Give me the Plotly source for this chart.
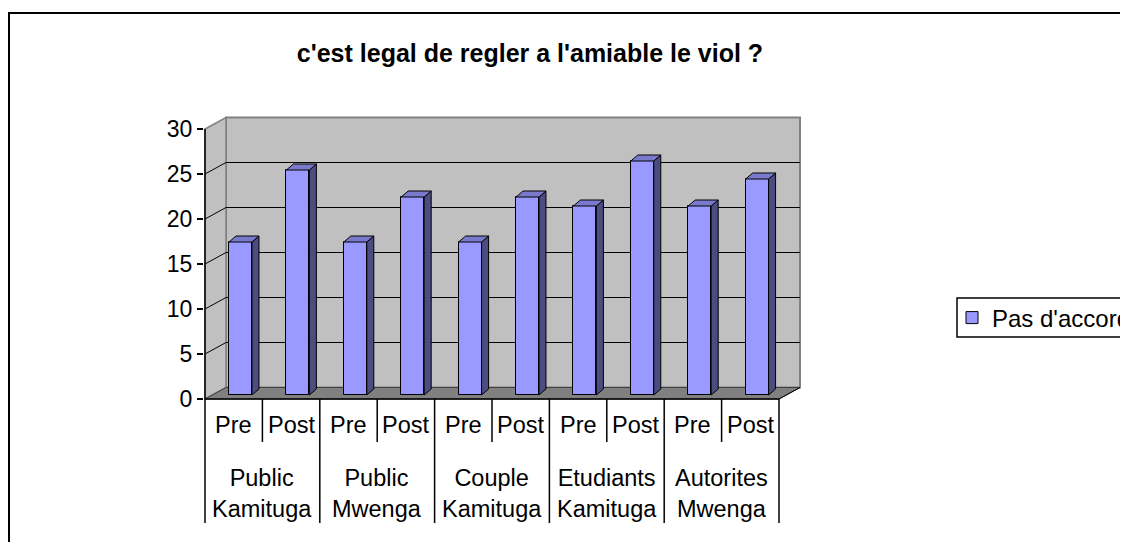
import plotly.graph_objects as go

# ---------------- data ----------------
title_text = "c'est legal de regler a l'amiable le viol ?"
series_name = "Pas d'accord"
phases = ["Pre", "Post", "Pre", "Post", "Pre", "Post", "Pre", "Post", "Pre", "Post"]
groups = ["Public<br>Kamituga", "Public<br>Mwenga", "Couple<br>Kamituga",
          "Etudiants<br>Kamituga", "Autorites<br>Mwenga"]
values = [17, 25, 17, 22, 17, 22, 21, 26, 21, 24]
y_ticks = [0, 5, 10, 15, 20, 25, 30]

# ---------------- geometry / style ----------------
W, H = 1128, 542
OFF = 8           # page body margin (screen px = figure px + OFF)
FONT = "Liberation Sans, Arial, sans-serif"
PXC = 57.4        # px per category
PXV = 9.0         # px per value unit
FRONT_LEFT = 205  # screen px of x=-0.5
ZERO = 399        # screen px of y=0
ML, MR, MT, MB = 196, 333, 107, 149
PW = W - ML - MR
PH = H - MT - MB

n = len(values)
ymax = y_ticks[-1]
DX = 21 / PXC     # depth offset of back wall (category units)
DY = 11.5 / PXV   # depth offset of back wall (value units)
BX = 6.8 / PXC    # bar front face shift
BY = 4.0 / PXV
BW = 0.4          # bar width
DDX = 7 / PXC     # bar depth
DDY = 6 / PXV

x0 = -0.5 - (FRONT_LEFT - OFF - ML) / PXC
x_range = [x0, x0 + PW / PXC]
y0 = -((H - MB + OFF) - ZERO) / PXV
y_range = [y0, y0 + PH / PXV]


def px_x(px):
    return (px - OFF - ML) / PW


def px_y(py):
    return (H - MB - (py - OFF)) / PH


WALL = "#c0c0c0"
FLOOR = "#808080"
EDGE = "#808080"
FRONT = "#9999ff"
TOP = "#7a7acc"
SIDE = "#4c4c80"

fig = go.Figure()

shapes = []
L = -0.5
R = n - 0.5
# back wall
shapes.append(dict(type="rect", xref="x", yref="y", x0=L + DX, x1=R + DX, y0=DY, y1=ymax + DY,
                   fillcolor=WALL, line=dict(color=EDGE, width=2), layer="below"))
# left wall
shapes.append(dict(type="path", xref="x", yref="y",
                   path=f"M{L},0 L{L},{ymax} L{L+DX},{ymax+DY} L{L+DX},{DY} Z",
                   fillcolor=WALL, line=dict(color=EDGE, width=1.5), layer="below"))
# floor
shapes.append(dict(type="path", xref="x", yref="y",
                   path=f"M{L},0 L{R},0 L{R+DX},{DY} L{L+DX},{DY} Z",
                   fillcolor=FLOOR, line=dict(color="#404040", width=1), layer="below"))
# gridlines
for v in y_ticks[1:-1]:
    shapes.append(dict(type="line", xref="x", yref="y", x0=L + DX, x1=R + DX, y0=v + DY, y1=v + DY,
                       line=dict(color="black", width=1), layer="below"))
    shapes.append(dict(type="line", xref="x", yref="y", x0=L, x1=L + DX, y0=v, y1=v + DY,
                       line=dict(color="black", width=1), layer="below"))
# front axis lines
shapes.append(dict(type="line", xref="x", yref="y", x0=L, x1=L, y0=0, y1=ymax,
                   line=dict(color="black", width=1.5), layer="above"))
shapes.append(dict(type="line", xref="x", yref="y", x0=L, x1=R, y0=0, y1=0,
                   line=dict(color="black", width=1.5), layer="above"))
shapes.append(dict(type="line", xref="x", yref="y", x0=R, x1=R + DX, y0=0, y1=DY,
                   line=dict(color="black", width=1), layer="above"))

# category dividers
for g in range(len(groups) + 1):
    shapes.append(dict(type="line", xref="x", yref="paper", x0=2 * g - 0.5, x1=2 * g - 0.5,
                       y0=px_y(ZERO), y1=px_y(523), line=dict(color="black", width=1.5)))
for g in range(len(groups)):
    shapes.append(dict(type="line", xref="x", yref="paper", x0=2 * g + 0.5, x1=2 * g + 0.5,
                       y0=px_y(ZERO), y1=px_y(442), line=dict(color="black", width=1.5)))

# outer chart frame
shapes.append(dict(type="rect", xref="paper", yref="paper", x0=px_x(9), x1=px_x(1250),
                   y0=px_y(650), y1=px_y(13), line=dict(color="black", width=2),
                   fillcolor="rgba(0,0,0,0)"))
# legend frame
shapes.append(dict(type="rect", xref="paper", yref="paper", x0=px_x(957), x1=px_x(1250),
                   y0=px_y(337), y1=px_y(298), line=dict(color="black", width=1.5),
                   fillcolor="white", layer="below"))

# bars: front faces
xs = [i + BX for i in range(n)]
fig.add_trace(go.Bar(x=xs, y=values, base=BY, width=BW, name=series_name,
                     marker=dict(color=FRONT, line=dict(color="black", width=1)),
                     showlegend=True, hoverinfo="skip"))

# bars: side and top faces
sx, sy, tx, ty = [], [], [], []
for i, v in enumerate(values):
    xl = xs[i] - BW / 2
    xr = xs[i] + BW / 2
    top = v + BY
    sx += [xr, xr + DDX, xr + DDX, xr, xr, None]
    sy += [BY, BY + DDY, top + DDY, top, BY, None]
    tx += [xl, xl + DDX, xr + DDX, xr, xl, None]
    ty += [top, top + DDY, top + DDY, top, top, None]
fig.add_trace(go.Scatter(x=sx, y=sy, mode="lines", fill="toself", fillcolor=SIDE,
                         line=dict(color="black", width=1), showlegend=False, hoverinfo="skip"))
fig.add_trace(go.Scatter(x=tx, y=ty, mode="lines", fill="toself", fillcolor=TOP,
                         line=dict(color="black", width=1), showlegend=False, hoverinfo="skip"))

# category labels
annotations = []
for i, p in enumerate(phases):
    annotations.append(dict(x=i, y=px_y(425), xref="x", yref="paper", text=p, showarrow=False,
                            xanchor="center", yanchor="middle",
                            font=dict(family=FONT, size=23.5, color="black")))
for g, name in enumerate(groups):
    annotations.append(dict(x=2 * g + 0.5, y=px_y(493), xref="x", yref="paper", text=name,
                            showarrow=False, xanchor="center", yanchor="middle",
                            font=dict(family=FONT, size=23.5, color="black")))

fig.update_layout(
    width=W, height=H,
    margin=dict(l=ML, r=MR, t=MT, b=MB, autoexpand=False),
    paper_bgcolor="white", plot_bgcolor="white",
    title=dict(text=f"<b>{title_text}</b>", x=(530 - OFF) / W, xanchor="center",
               y=1 - (53 - OFF) / H, yanchor="middle",
               font=dict(family=FONT, size=25, color="black")),
    xaxis=dict(range=x_range, visible=False, fixedrange=True),
    yaxis=dict(range=y_range, tickvals=y_ticks, ticks="outside", ticklen=6, tickcolor="black",
               tickwidth=1.5, showgrid=False, zeroline=False, showline=False,
               tickfont=dict(family=FONT, size=23, color="black"), fixedrange=True),
    shapes=shapes,
    annotations=annotations,
    legend=dict(x=px_x(952), y=px_y(318), xanchor="left", yanchor="middle",
                borderwidth=0, bgcolor="rgba(0,0,0,0)",
                font=dict(family=FONT, size=24, color="black")),
    bargap=0,
    showlegend=True,
)

fig.write_html("out.html")
